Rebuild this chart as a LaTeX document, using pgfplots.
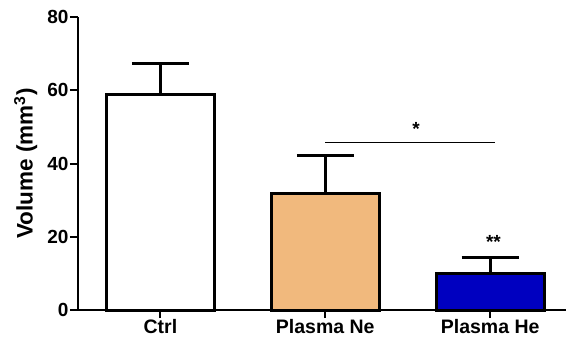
\documentclass[border=0pt]{standalone}
\usepackage{fontspec}
\setmainfont{Liberation Sans}
\usepackage{pgfplots}
\pgfplotsset{compat=1.18}
\definecolor{peach}{RGB}{241,185,125}
\definecolor{hblue}{RGB}{0,0,192}
\begin{document}
\begin{tikzpicture}
\path[use as bounding box] (-78pt,-28pt) rectangle (488pt,310pt);
\begin{axis}[
  at={(0,0)}, anchor=south west,
  scale only axis, width=488pt, height=293pt,
  xmin=-0.5, xmax=2.46, ymin=0, ymax=80,
  axis x line=bottom, axis y line=left,
  axis line style={-, line width=2pt, black},
  xtick={0,1,2}, xticklabels={Ctrl,Plasma Ne,Plasma He},
  ytick={0,20,40,60,80},
  tick align=outside, major tick length=8pt,
  tick style={line width=2pt, black},
  x tick label style={font=\fontsize{19.5}{19.5}\selectfont\bfseries, yshift=2pt},
  y tick label style={font=\fontsize{19}{19}\selectfont\bfseries, xshift=2pt},
  /pgf/number format/assume math mode=true,
  ylabel={\fontsize{22.5}{22.5}\selectfont\bfseries Volume (mm\textsuperscript{3})},
  ylabel style={at={(axis description cs:-0.076,0.5)}, anchor=south},
  clip=false,
]
\addplot[ybar, bar width=108pt, draw=black, line width=3pt, fill=white,
  error bars/.cd, y dir=plus, y explicit, error mark=|,
  error bar style={line width=3pt, black},
  error mark options={line width=3pt, mark size=28.5pt, black}]
  coordinates {(0,58.9) +- (0,8.5)};
\addplot[ybar, bar width=108pt, draw=black, line width=3pt, fill=peach,
  error bars/.cd, y dir=plus, y explicit, error mark=|,
  error bar style={line width=3pt, black},
  error mark options={line width=3pt, mark size=28.5pt, black}]
  coordinates {(1,31.7) +- (0,10.6)};
\addplot[ybar, bar width=108pt, draw=black, line width=3pt, fill=hblue,
  error bars/.cd, y dir=plus, y explicit, error mark=|,
  error bar style={line width=3pt, black},
  error mark options={line width=3pt, mark size=28.5pt, black}]
  coordinates {(2,9.9) +- (0,4.5)};
\addplot[black, line width=1.5pt, no marks] coordinates {(1.0,45.8) (2.03,45.8)};
\node[font=\fontsize{19}{19}\selectfont\bfseries] at (axis cs:1.55,49.3) {*};
\node[font=\fontsize{19}{19}\selectfont\bfseries] at (axis cs:2.02,18.7) {**};
\end{axis}
\end{tikzpicture}
\end{document}
